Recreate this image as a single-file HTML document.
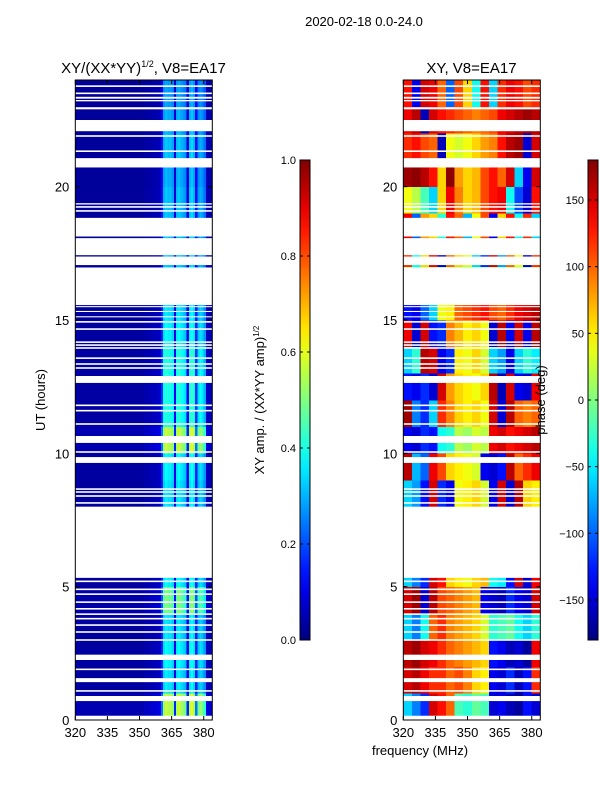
<!DOCTYPE html>
<html><head><meta charset="utf-8">
<style>
html,body{margin:0;padding:0;background:#fff;}
svg{display:block;font-family:"Liberation Sans",sans-serif;}
</style></head>
<body>
<svg id="fig" width="600" height="800" viewBox="0 0 600 800" xmlns="http://www.w3.org/2000/svg">
  <defs>
    <linearGradient id="jetGrad" x1="0" y1="1" x2="0" y2="0"></linearGradient>
  </defs>
  <text x="364" y="26" font-size="13" text-anchor="middle">2020-02-18 0.0-24.0</text>
  <text x="143.5" y="73" font-size="15" text-anchor="middle">XY/(XX*YY)<tspan font-size="9" dy="-6">1/2</tspan><tspan dy="6">, V8=EA17</tspan></text>
  <text x="471.5" y="73" font-size="15" text-anchor="middle">XY, V8=EA17</text>
  <g id="leftPanel"></g>
  <g id="rightPanel"></g>
  <g id="axes"></g>
  <text transform="translate(45,400) rotate(-90)" font-size="13" text-anchor="middle">UT (hours)</text>
  <text x="420" y="755" font-size="13" text-anchor="middle">frequency (MHz)</text>
  <text transform="translate(264,400) rotate(-90)" font-size="13" text-anchor="middle">XY amp. / (XX*YY amp)<tspan font-size="8" dy="-5">1/2</tspan></text>
  <text transform="translate(545,400) rotate(-90)" font-size="13" text-anchor="middle">phase (deg)</text>
</svg>
<script>
// ---- data ----
const ampFreqs = [];
for (let f = 320; f < 384; f++) ampFreqs.push(f);
const ampCols = [0.03,0.03,0.03,0.03,0.03,0.03,0.03,0.03,0.03,0.03,
  0.03,0.03,0.03,0.03,0.03,0.03,0.03,0.03,0.03,0.03,
  0.03,0.03,0.03,0.03,0.03,0.03,0.03,0.03,0.03,0.03,
  0.03,0.03,0.04,0.04,0.04,0.05,0.05,0.05,0.06,0.06,
  0.15,0.33,0.36,0.34,0.35,0.32,0.1,0.34,0.36,0.34,0.32,0.3,0.1,0.35,0.38,0.34,0.15,0.3,0.33,0.31,0.26,0.06,0.05,0.05];
const ampHour = [1.6,1.0,1.05,1.0,1.4,1.05,1,1,1.0,1.05,1.6,1.15,1.15,1.15,1.05,1.0,1,0.9,0.9,0.9,0.85,0.9,0.85,0.8];
const phaseFreqs = [320,324,328,332,336,340,344,348,352,356,360,364,368,372,376,380];
const phase = [
 [-60,-90,-120,150,130,100,-20,-30,-10,-20,-150,-140,-160,-170,-130,-150],
 [150,160,140,120,120,100,110,90,60,50,-140,-150,-120,-160,-130,120],
 [160,170,150,140,120,100,90,80,70,60,-130,-140,-160,-150,-170,140],
 [-60,-90,-40,100,120,90,80,70,60,30,-30,-20,-10,-40,-60,-30],
 [150,170,-150,160,110,100,90,80,70,-140,-150,-160,-120,-140,-150,150],
 [-60,-90,-120,150,130,60,50,40,60,70,-40,-50,-130,150,-150,140],
 [0,0,0,0,0,0,0,0,0,0,0,0,0,0,0,0],
 [0,0,0,0,0,0,0,0,0,0,0,0,0,0,0,0],
 [-60,-80,-130,150,-120,-140,40,50,60,30,-140,150,-150,160,60,50],
 [160,-70,-100,140,110,60,50,40,30,-140,-150,-130,160,100,120,140],
 [-140,-150,-120,-130,-40,-30,20,10,30,20,140,150,130,140,150,160],
 [170,-90,-120,-60,120,90,60,50,60,40,150,-150,160,100,90,100],
 [-130,-140,-120,-150,150,80,60,50,40,60,160,-160,150,-140,-150,140],
 [-60,-30,160,150,-140,-120,50,40,60,30,-60,-80,-140,-60,-30,-50],
 [140,-150,150,-130,-120,90,70,50,60,40,-150,160,-140,150,-140,160],
 [-130,-140,-100,-60,40,50,100,110,120,130,110,100,120,140,150,160],
 [0,0,0,0,0,0,0,0,0,0,0,0,0,0,0,0],
 [120,-40,60,140,-150,100,60,30,-60,-120,150,-80,100,40,-150,120],
 [140,-100,80,60,-30,130,100,-70,40,110,-140,60,130,-40,120,-60],
 [40,20,-20,-60,60,140,90,60,70,110,130,140,-40,-110,-150,130],
 [170,175,160,130,60,175,80,60,70,110,130,100,150,-60,-140,150],
 [120,130,110,100,-160,40,30,40,60,80,90,130,160,170,-150,150],
 [140,160,-160,150,130,120,110,100,90,100,110,140,150,160,170,160],
 [130,-140,150,140,100,-100,110,60,-40,130,-60,120,140,130,110,120]
];
const gapStart = [23.74,23.47,23.3,23.2,22.9,22.08,21.87,21.3,20.72,19.33,19.21,19.06,18.13,17.43,17.06,15.56,15.48,15.3,15.1,14.9,14.63,14.14,14.03,13.92,13.54,13.32,13.17,12.64,11.77,11.57,11.07,10.39,10.02,9.64,8.63,8.52,8.37,8.11,5.33,5.17,4.87,4.69,4.39,4.14,3.94,3.77,3.53,3.27,2.97,2.25,1.87,1.42,1.06,0.71,0];
const gapEnd   = [23.8,23.53,23.37,23.25,22.98,22.5,21.93,21.36,21.07,19.38,19.27,19.12,18.83,18.07,17.38,16.97,15.52,15.34,15.14,14.96,14.69,14.2,14.09,13.98,13.6,13.38,13.23,12.9,11.83,11.63,11.13,10.65,10.08,9.86,8.69,8.58,8.43,8.17,8.0,5.23,4.93,4.75,4.45,4.2,4.0,3.83,3.59,3.33,3.03,2.45,1.93,1.57,1.12,0.9,0.16];
const hourTicks = [0,5,10,15,20];
const freqTicks = [320,335,350,365,380];
const ampTicks = [0.0,0.2,0.4,0.6,0.8,1.0];
const phaseTicks = [-150,-100,-50,0,50,100,150];

// ---- scales ----
const NS = "http://www.w3.org/2000/svg";
const panels = [{x0:75.3, x1:212.3}, {x0:403.3, x1:540.3}];
const yTop = 80, yBot = 720;
function yScale(h){ return yBot - h*(yBot-yTop)/24; }
function xScale(p, f){ return panels[p].x0 + (f-320)*(panels[p].x1-panels[p].x0)/64; }
const cbTop = 160, cbBot = 640;
function ampY(v){ return cbBot - v*(cbBot-cbTop); }
function phaseY(v){ return cbBot - (v+180)/360*(cbBot-cbTop); }
function clip(v){ return Math.max(0, Math.min(1, v)); }
function jet(x){
  x = clip(x);
  const r = clip(1.5-Math.abs(4*x-3)), g = clip(1.5-Math.abs(4*x-2)), b = clip(1.5-Math.abs(4*x-1));
  return "rgb("+Math.round(r*255)+","+Math.round(g*255)+","+Math.round(b*255)+")";
}
function mk(tag, attrs, parent){
  const el = document.createElementNS(NS, tag);
  for (const k in attrs) el.setAttribute(k, attrs[k]);
  parent.appendChild(el);
  return el;
}
const L = document.getElementById("leftPanel");
const R = document.getElementById("rightPanel");
const A = document.getElementById("axes");

for (let h = 0; h < 24; h++) {
  for (let c = 0; c < ampFreqs.length; c++) {
    const v = ampCols[c]*ampHour[h];
    const x = xScale(0, ampFreqs[c]), x2 = xScale(0, ampFreqs[c]+1);
    const el = mk("rect", {x:x, y:yScale(h+1), width:x2-x+0.3, height:yScale(h)-yScale(h+1)+0.3, fill:jet(v), "shape-rendering":"crispEdges"}, L);
    
    
  }
}
for (let h = 0; h < 24; h++) {
  for (let c = 0; c < phaseFreqs.length; c++) {
    const v = phase[h][c];
    const x = xScale(1, phaseFreqs[c]), x2 = xScale(1, phaseFreqs[c]+4);
    const el = mk("rect", {x:x, y:yScale(h+1), width:x2-x+0.3, height:yScale(h)-yScale(h+1)+0.3, fill:jet((v+180)/360), "shape-rendering":"crispEdges"}, R);
    
    
  }
}
for (let p = 0; p < 2; p++) {
  for (let i = 0; i < gapStart.length; i++) {
    const el = mk("rect", {x:panels[p].x0, y:yScale(gapEnd[i]), width:panels[p].x1-panels[p].x0, height:yScale(gapStart[i])-yScale(gapEnd[i]), fill:"#fff"}, p===0?L:R);
    
    
  }
}
for (let p = 0; p < 2; p++) {
  const fr = mk("rect", {x:panels[p].x0, y:yTop, width:panels[p].x1-panels[p].x0, height:yBot-yTop, fill:"none", stroke:"#000", "stroke-width":1}, A);
  
  
  for (const t of hourTicks) {
    const y = yScale(t);
    mk("line", {x1:panels[p].x0, x2:panels[p].x0+4, y1:y, y2:y, stroke:"#000"}, A);
    mk("line", {x1:panels[p].x1, x2:panels[p].x1-4, y1:y, y2:y, stroke:"#000"}, A);
    const tl = mk("text", {x:panels[p].x0-6, y:y+5, "font-size":13, "text-anchor":"end"}, A);
    tl.textContent = t;
    
    
  }
  for (const t of freqTicks) {
    const x = xScale(p, t);
    mk("line", {x1:x, x2:x, y1:yBot, y2:yBot-4, stroke:"#000"}, A);
    mk("line", {x1:x, x2:x, y1:yTop, y2:yTop+4, stroke:"#000"}, A);
    const tl = mk("text", {x:x, y:yBot+17, "font-size":13, "text-anchor":"middle"}, A);
    tl.textContent = t;
    
    
  }
}
const grad = document.getElementById("jetGrad");
for (let i = 0; i <= 20; i++) {
  mk("stop", {offset:(i/20), "stop-color":jet(i/20)}, grad);
}
const cbs = [{x:300, ticks:ampTicks, f:ampY, fmt:v=>v.toFixed(1), name:'amp-colorbar'},
             {x:588, ticks:phaseTicks, f:phaseY, fmt:v=>(v<0?"\u2212"+(-v):""+v), name:'phase-colorbar'}];
for (const cb of cbs) {
  const bar = mk("rect", {x:cb.x, y:cbTop, width:10, height:cbBot-cbTop, fill:"url(#jetGrad)", stroke:"#000", "stroke-width":1}, A);
  
  
  for (const t of cb.ticks) {
    const y = cb.f(t);
    mk("line", {x1:cb.x, x2:cb.x+3, y1:y, y2:y, stroke:"#000"}, A);
    mk("line", {x1:cb.x+10, x2:cb.x+7, y1:y, y2:y, stroke:"#000"}, A);
    const tl = mk("text", {x:cb.x-4, y:y+4, "font-size":11, "text-anchor":"end"}, A);
    tl.textContent = cb.fmt(t);
    
    
  }
}
</script>
</body></html>
